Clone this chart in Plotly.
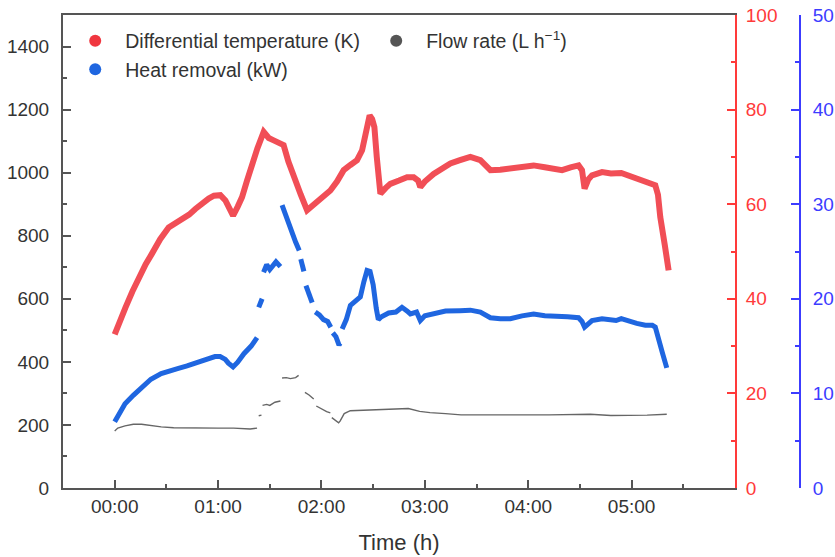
import plotly.graph_objects as go

# ---- Data (time in hours) ----
temp_t = [0, 0.05, 0.103, 0.17, 0.232, 0.30, 0.362, 0.44, 0.522, 0.58, 0.652, 0.72, 0.78, 0.85, 0.909,
          0.96, 1.022, 1.071, 1.11, 1.145, 1.19, 1.232, 1.28, 1.329, 1.38, 1.441, 1.49, 1.538, 1.59,
          1.634, 1.68, 1.731, 1.80, 1.861, 1.91, 1.957, 2.02, 2.086, 2.15, 2.215, 2.28, 2.344, 2.393,
          2.43, 2.466, 2.49, 2.512, 2.535, 2.553, 2.57, 2.62, 2.666, 2.75, 2.828, 2.892, 2.935, 2.956,
          3.00, 3.085, 3.16, 3.247, 3.34, 3.44, 3.537, 3.58, 3.634, 3.73, 3.827, 3.94, 4.052, 4.16,
          4.279, 4.327, 4.41, 4.487, 4.52, 4.545, 4.58, 4.617, 4.714, 4.80, 4.90, 4.971, 5.05, 5.133,
          5.229, 5.255, 5.277, 5.32, 5.358]
temp_k = [32.5, 35.5, 38.1, 41.5, 44.6, 47.3, 49.6, 52.6, 55.1, 55.9, 56.6, 57.8, 59.0, 60.3, 61.2,
          61.8, 61.9, 60.8, 59.2, 57.6, 59.5, 61.5, 65.0, 68.6, 71.8, 75.3, 74.0, 73.5, 72.8,
          72.5, 69.0, 65.7, 62.0, 58.7, 59.6, 60.4, 61.5, 62.9, 64.8, 67.2, 68.3, 69.3, 71.4,
          76.0, 78.8, 78.0, 76.3, 70.0, 63.6, 62.2, 63.4, 64.3, 65.0, 65.7, 65.7, 65.0, 63.6,
          64.8, 66.4, 67.6, 68.6, 69.3, 70.0, 69.3, 68.2, 67.2, 67.3, 67.5, 67.9, 68.2, 67.8,
          67.5, 67.2, 67.8, 68.2, 67.2, 63.3, 65.2, 66.1, 66.8, 66.5, 66.6, 66.1, 65.4, 64.7,
          64.0, 62.0, 57.3, 51.5, 46.0]

heat_t = [0, 0.05, 0.10, 0.18, 0.25, 0.35, 0.45, 0.52, 0.60, 0.70, 0.80, 0.90, 0.97, 1.02, 1.07, 1.10,
          1.145, 1.19, 1.25, 1.32, 1.377, None, 1.393, 1.426, None, 1.44, 1.47, 1.50, 1.53, 1.56, 1.603,
          None, 1.619, 1.66, 1.70, 1.75, 1.785, None, 1.80, 1.83, None, 1.85, 1.88, 1.91, None, 1.94,
          1.98, 2.02, 2.06, 2.09, None, 2.11, 2.14, 2.17, 2.18, None, 2.20, 2.24, 2.28, 2.33, 2.376,
          2.41, 2.441, 2.47, 2.50, 2.53, 2.55, 2.58, 2.65, 2.72, 2.779, 2.83, 2.86, 2.92, 2.956, 3.00,
          3.085, 3.20, 3.34, 3.44, 3.537, 3.634, 3.73, 3.827, 3.94, 4.052, 4.16, 4.279, 4.38, 4.487,
          4.52, 4.545, 4.617, 4.714, 4.85, 4.90, 4.971, 5.05, 5.133, 5.20, 5.229, 5.261, 5.30, 5.34]
heat_kw = [7.0, 8.0, 8.9, 9.8, 10.5, 11.5, 12.1, 12.4, 12.6, 12.9, 13.3, 13.7, 13.9, 13.9, 13.6, 13.2,
           12.8, 13.3, 14.2, 15.0, 15.9, None, 19.1, 20.0, None, 22.8, 23.6, 23.1, 23.5, 23.9, 23.4,
           None, 29.9, 28.6, 27.2, 26.0, 25.1, None, 24.2, 22.9, None, 21.4, 20.5, 19.6, None, 18.6,
           18.3, 17.8, 17.6, 17.0, None, 16.4, 16.0, 15.1, 15.3, None, 16.8, 17.8, 19.3, 19.7, 20.2,
           21.8, 23.0, 22.9, 21.5, 19.0, 17.8, 18.1, 18.5, 18.6, 19.1, 18.7, 18.4, 18.6, 17.7, 18.2,
           18.4, 18.7, 18.75, 18.8, 18.6, 18.0, 17.9, 17.9, 18.2, 18.4, 18.2, 18.2, 18.1, 18.0,
           17.6, 17.0, 17.7, 17.9, 17.7, 17.9, 17.6, 17.4, 17.2, 17.2, 17.0, 15.6, 14.2, 12.7]

flow_t = [0, 0.03, 0.10, 0.18, 0.26, 0.35, 0.45, 0.57, 0.70, 0.85, 1.0, 1.15, 1.25, 1.31, 1.377, None,
          1.393, 1.42, None, 1.43, 1.47, 1.50, 1.55, 1.603, None, 1.619, 1.66, 1.70, 1.75, 1.779, None,
          1.80, None, 1.84, 1.88, 1.925, None, 1.95, 2.0, 2.05, 2.086, None, 2.10, 2.14, 2.166, 2.18,
          2.22, 2.279, 2.40, 2.60, 2.75, 2.84, 2.95, 3.05, 3.20, 3.35, 3.60, 3.80, 4.0, 4.20, 4.40,
          4.60, 4.80, 5.0, 5.15, 5.34]
flow_lh = [181, 190, 197, 202, 202, 198, 194, 191, 190, 190, 190, 190, 188, 187, 190, None,
           229, 231, None, 262, 265, 262, 272, 276, None, 349, 350, 347, 350, 357, None,
           335, None, 303, 295, 282, None, 260, 250, 242, 238, None, 223, 213, 207, 212,
           236, 245, 247, 248, 251, 252, 243, 239, 236, 232, 232, 233, 232, 232, 233,
           234, 230, 230, 231, 234]

hour_ticks = [0, 1, 2, 3, 4, 5]
hour_labels = ["00:00", "01:00", "02:00", "03:00", "04:00", "05:00"]

RED = "#f0363f"
BLUE = "#1f66e0"
GRAY = "#555555"
RED_AX = "#ff3a3a"
BLUE_AX = "#3c3cff"
TXT = "#333333"
FONT = "Liberation Sans, Arial, sans-serif"

fig = go.Figure()

# data traces
fig.add_trace(go.Scatter(x=flow_t, y=flow_lh, mode="lines", line=dict(color="#666666", width=1.4),
                         connectgaps=False, showlegend=False, yaxis="y"))
fig.add_trace(go.Scatter(x=heat_t, y=heat_kw, mode="lines", line=dict(color=BLUE, width=5),
                         connectgaps=False, showlegend=False, yaxis="y3"))
fig.add_trace(go.Scatter(x=temp_t, y=temp_k, mode="lines", line=dict(color=RED, width=6),
                         opacity=0.88, showlegend=False, yaxis="y2"))

# legend entries (markers)
fig.add_trace(go.Scatter(x=[None], y=[None], mode="markers", marker=dict(color=RED, size=13),
                         name="Differential temperature (K)", yaxis="y2"))
fig.add_trace(go.Scatter(x=[None], y=[None], mode="markers", marker=dict(color=GRAY, size=13),
                         name="Flow rate (L h<sup>−1</sup>)", yaxis="y"))
fig.add_trace(go.Scatter(x=[None], y=[None], mode="markers", marker=dict(color=BLUE, size=13),
                         name="Heat removal (kW)", yaxis="y3"))

fig.update_layout(
    width=835, height=557,
    margin=dict(l=63, r=35, t=15, b=69, autoexpand=False),
    paper_bgcolor="white", plot_bgcolor="white",
    font=dict(family=FONT, size=19, color=TXT),
    showlegend=True,
    legend=dict(orientation="h", x=0.003, y=0.986, xanchor="left", yanchor="top",
                entrywidth=236, entrywidthmode="pixels", itemwidth=50, bgcolor="rgba(0,0,0,0)",
                font=dict(size=19.5, color=TXT), itemsizing="constant"),
    xaxis=dict(domain=[0, 0.9118], range=[-0.5, 6.0], tickmode="array", tickvals=hour_ticks,
               ticktext=hour_labels, ticks="inside", ticklen=8, tickwidth=2, tickcolor=GRAY,
               minor=dict(ticks="inside", ticklen=4, tickwidth=2, tickcolor=GRAY,
                          tickvals=[0.5, 1.5, 2.5, 3.5, 4.5, 5.5]),
               showline=True, linecolor=GRAY, linewidth=2, mirror=True,
               showgrid=False, zeroline=False, automargin=False,
               title=dict(text="Time (h)", font=dict(size=22, color=TXT), standoff=19)),
    yaxis=dict(range=[0, 1500], tickmode="array", tickvals=[0, 200, 400, 600, 800, 1000, 1200, 1400],
               ticks="inside", ticklen=8, tickwidth=2, tickcolor=GRAY,
               minor=dict(ticks="inside", ticklen=4, tickwidth=2, tickcolor=GRAY,
                          tickvals=[100, 300, 500, 700, 900, 1100, 1300]),
               showline=True, linecolor=GRAY, linewidth=2, showgrid=False, zeroline=False,
               ticklabelstandoff=8, automargin=False),
    yaxis2=dict(overlaying="y", side="right", anchor="x", range=[0, 100], tickmode="linear",
                tick0=0, dtick=20, ticks="inside", ticklen=8, tickwidth=2, tickcolor=RED_AX,
                minor=dict(ticks="inside", ticklen=4, tickwidth=2, tickcolor=RED_AX, dtick=10, tick0=0),
                showline=True, linecolor=RED_AX, linewidth=2, showgrid=False, zeroline=False,
                tickfont=dict(color=RED_AX), ticklabelstandoff=5, automargin=False),
    yaxis3=dict(overlaying="y", side="right", anchor="free", position=1.0, range=[0, 50],
                tickmode="linear", tick0=0, dtick=10, ticks="inside", ticklen=8, tickwidth=2,
                tickcolor=BLUE_AX,
                minor=dict(ticks="inside", ticklen=4, tickwidth=2, tickcolor=BLUE_AX, dtick=5, tick0=0),
                showline=True, linecolor=BLUE_AX, linewidth=2, showgrid=False, zeroline=False,
                tickfont=dict(color=BLUE_AX), ticklabelstandoff=8, automargin=False),
)

fig.write_html("out.html")
